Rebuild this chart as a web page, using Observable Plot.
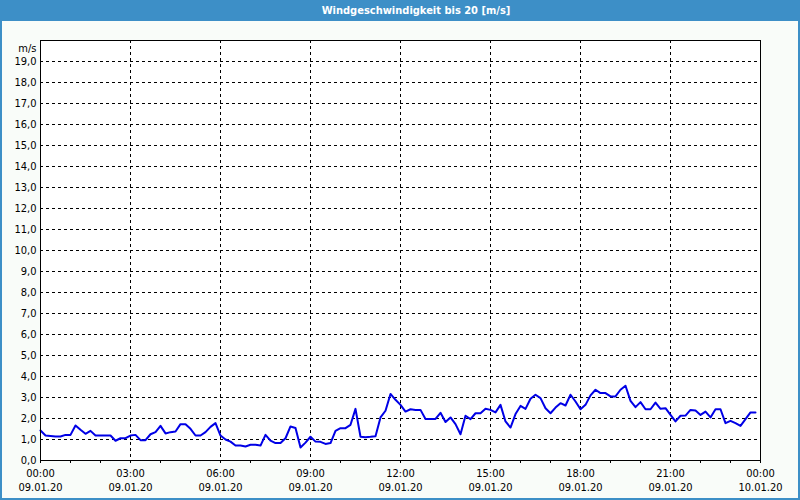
<!DOCTYPE html>
<html>
<head>
<meta charset="utf-8">
<script src="https://cdn.jsdelivr.net/npm/d3@7"></script>
<script src="https://cdn.jsdelivr.net/npm/@observablehq/plot@0.6"></script>
<style>
  html, body { margin: 0; padding: 0; background: #f9fcf9; }
  #wrap { position: relative; width: 800px; height: 500px; background: #f9fcf9; overflow: hidden;
          font-family: "DejaVu Sans Condensed", "DejaVu Sans", sans-serif; }
  #title { position: absolute; left: 0; top: 0; width: 800px; height: 21px; background: #3d8fc7;
           color: #fff; font-weight: bold; font-size: 11px; line-height: 21px; }
  #title span { position: absolute; left: 416px; transform: translateX(-50%); white-space: nowrap; }
  #chart { position: absolute; left: 0; top: 20px; }
  .bl { position: absolute; background: #3d8fc7; }
</style>
</head>
<body>
<div id="wrap">
  <div id="title"><span>Windgeschwindigkeit bis 20 [m/s]</span></div>
  <div id="chart"></div>
  <div class="bl" style="left:0;top:20px;width:2px;height:480px"></div>
  <div class="bl" style="right:0;top:20px;width:2px;height:480px"></div>
  <div class="bl" style="left:0;bottom:0;width:800px;height:2px"></div>
</div>
<script>
const times = [
  "00:00","00:10","00:20","00:30","00:40","00:50","01:00","01:10","01:20","01:30","01:40","01:50",
  "02:00","02:10","02:20","02:30","02:40","02:50","03:00","03:10","03:20","03:30","03:40","03:50",
  "04:00","04:10","04:20","04:30","04:40","04:50","05:00","05:10","05:20","05:30","05:40","05:50",
  "06:00","06:10","06:20","06:30","06:40","06:50","07:00","07:10","07:20","07:30","07:40","07:50",
  "08:00","08:10","08:20","08:30","08:40","08:50","09:00","09:10","09:20","09:30","09:40","09:50",
  "10:00","10:10","10:20","10:30","10:40","10:50","11:00","11:10","11:20","11:30","11:40","11:50",
  "12:00","12:10","12:20","12:30","12:40","12:50","13:00","13:10","13:20","13:30","13:40","13:50",
  "14:00","14:10","14:20","14:30","14:40","14:50","15:00","15:10","15:20","15:30","15:40","15:50",
  "16:00","16:10","16:20","16:30","16:40","16:50","17:00","17:10","17:20","17:30","17:40","17:50",
  "18:00","18:10","18:20","18:30","18:40","18:50","19:00","19:10","19:20","19:30","19:40","19:50",
  "20:00","20:10","20:20","20:30","20:40","20:50","21:00","21:10","21:20","21:30","21:40","21:50",
  "22:00","22:10","22:20","22:30","22:40","22:50","23:00","23:10","23:20","23:30","23:40","23:50"
];
const speeds = [
  1.43,1.19,1.17,1.14,1.14,1.22,1.22,1.67,1.46,1.27,1.41,1.19,
  1.19,1.19,1.19,0.94,1.06,1.06,1.19,1.22,0.97,0.97,1.25,1.35,
  1.65,1.29,1.35,1.38,1.73,1.73,1.51,1.19,1.19,1.35,1.60,1.78,
  1.19,1.00,0.90,0.71,0.71,0.67,0.75,0.75,0.71,1.22,0.95,0.83,
  0.83,1.06,1.62,1.55,0.62,0.85,1.13,0.90,0.89,0.79,0.83,1.41,
  1.54,1.54,1.70,2.46,1.13,1.11,1.13,1.16,2.05,2.37,3.17,2.89,
  2.65,2.33,2.44,2.41,2.41,1.98,1.98,1.98,2.27,1.83,2.05,1.73,
  1.25,2.13,1.97,2.25,2.25,2.46,2.41,2.29,2.65,1.86,1.57,2.21,
  2.60,2.46,2.94,3.13,2.97,2.49,2.25,2.52,2.73,2.62,3.13,2.81,
  2.44,2.65,3.10,3.37,3.21,3.21,3.05,3.05,3.37,3.56,2.84,2.54,
  2.78,2.44,2.44,2.76,2.46,2.49,2.17,1.86,2.13,2.14,2.41,2.38,
  2.17,2.33,2.05,2.44,2.44,1.78,1.89,1.78,1.65,1.97,2.29,2.29
];
const yTicks = [0,1,2,3,4,5,6,7,8,9,10,11,12,13,14,15,16,17,18,19];
const yTickLabels = ["0,0","1,0","2,0","3,0","4,0","5,0","6,0","7,0","8,0","9,0","10,0",
  "11,0","12,0","13,0","14,0","15,0","16,0","17,0","18,0","19,0"];
const yGrid = [1,2,3,4,5,6,7,8,9,10,11,12,13,14,15,16,17,18,19];
const hourTicks = [0,1,2,3,4,5,6,7,8,9,10,11,12,13,14,15,16,17,18,19,20,21,22,23,24];
const majorHours = [0,3,6,9,12,15,18,21,24];
const timeLabels = ["00:00","03:00","06:00","09:00","12:00","15:00","18:00","21:00","00:00"];
const dateLabels = ["09.01.20","09.01.20","09.01.20","09.01.20","09.01.20","09.01.20","09.01.20","09.01.20","10.01.20"];
const xGrid = [3,6,9,12,15,18,21];
const unitLabel = "m/s";

const data = times.map((t, i) => ({h: +t.slice(0, 2) + (+t.slice(3)) / 60, v: speeds[i]}));

const chart = Plot.plot({
  width: 800,
  height: 480,
  marginLeft: 40,
  marginRight: 40,
  marginTop: 20,
  marginBottom: 40,
  x: {domain: [0, 24]},
  y: {domain: [0, 20]},
  style: {background: "transparent", fontFamily: "'DejaVu Sans Condensed', 'DejaVu Sans', sans-serif", fontSize: "11px", color: "#000"},
  marks: [
    Plot.frame({fill: "white", stroke: "none"}),
    Plot.ruleY(yGrid, {stroke: "black", strokeDasharray: "3,3"}),
    Plot.ruleX(xGrid, {stroke: "black", strokeDasharray: "3,3"}),
    Plot.line(data, {x: "h", y: "v", stroke: "#0000e6", strokeWidth: 2}),
    Plot.frame({stroke: "black"}),
    Plot.axisY({ticks: yTicks, tickFormat: d => yTickLabels[yTicks.indexOf(d)], tickSize: 0, tickPadding: 4, label: null}),
    Plot.axisX({ticks: hourTicks, tickSize: 3, tickPadding: 6,
      tickFormat: d => { const k = majorHours.indexOf(d); return k >= 0 ? timeLabels[k] : ""; }, label: null}),
    Plot.axisX({ticks: majorHours, tickSize: 0, tickPadding: 23,
      tickFormat: d => dateLabels[majorHours.indexOf(d)], label: null}),
    Plot.text([unitLabel], {frameAnchor: "top-left", dx: -4, dy: 4, textAnchor: "end"})
  ]
});
document.getElementById("chart").appendChild(chart);
</script>
</body>
</html>
